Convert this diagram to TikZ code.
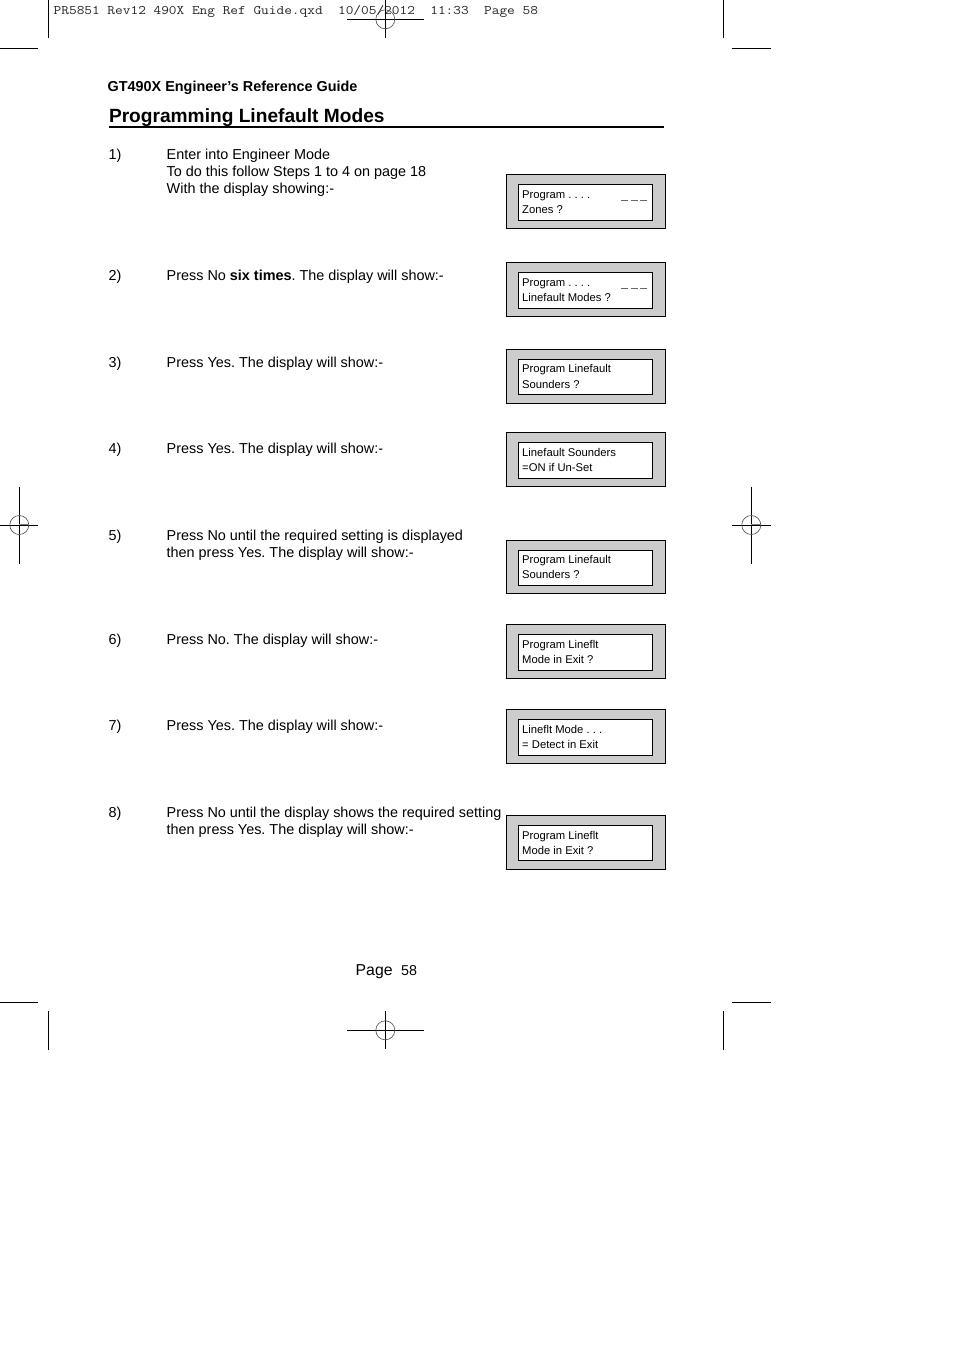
\documentclass[tikz,border=0pt]{standalone}
\usepackage{fontspec}
\setmainfont{Liberation Sans}
\newfontfamily\crit[FakeStretch=1.143]{Latin Modern Mono}
\frenchspacing
\tikzset{
  x=1pt,y=-1pt,
  body/.style={anchor=base west,inner sep=0pt,font=\fontsize{14.41}{17}\selectfont},
  lcd/.style={anchor=base west,inner sep=0pt,font=\fontsize{11.25}{13}\selectfont},
  outerbox/.style={draw=black,line width=1pt,fill=black!20},
  innerbox/.style={draw=black,line width=1pt,fill=white},
  crop/.style={draw=black,line width=0.9pt},
  reg/.style={draw=black!70,line width=0.6pt},
  lcddash/.style={draw=black!60,line width=0.7pt,dash pattern=on 7pt off 2.5pt},
}
% name, outer top, outer bottom, inner top, inner bottom, baseline 1, baseline 2, line 1, line 2
\newcommand{\disp}[9]{%
  \path[outerbox] (506,#2) rectangle (665.5,#3);
  \path[innerbox] (518.3,#4) rectangle (652.3,#5);
  \node[lcd] (#1a) at (522,#6) {#8};
  \node[lcd] (#1b) at (522,#7) {#9};
}
% x, y, horizontal half length, vertical half length
\newcommand{\regmark}[4]{%
  \draw[crop] (#1-#3,#2) -- (#1+#3,#2);
  \draw[crop] (#1,#2-#4) -- (#1,#2+#4);
  \draw[reg] (#1,#2) circle (9.5);
}
\begin{document}
\begin{tikzpicture}
\useasboundingbox[fill=white] (0,0) rectangle (954,1350);
% slug
\node[anchor=base west,inner sep=0pt,text=black!85,font=\crit\fontsize{13.06}{14}\selectfont] (slug) at (53.5,14.5) {PR5851 Rev12 490X Eng Ref Guide.qxd\ \ 10/05/2012\ \ 11:33\ \ Page 58};
% crop marks
\draw[crop] (48,0) -- (48,38);
\draw[crop] (723,0) -- (723,38);
\draw[crop] (0,48) -- (38,48);
\draw[crop] (732,48) -- (771,48);
\draw[crop] (48,1011) -- (48,1050);
\draw[crop] (723,1011) -- (723,1050);
\draw[crop] (0,1002) -- (38,1002);
\draw[crop] (732,1002) -- (771,1002);
\regmark{385.3}{19.3}{38.5}{19}
\regmark{385.3}{1030.3}{38.5}{19}
\regmark{19.3}{525}{19}{38.5}
\regmark{751.3}{525}{19.5}{38.5}
\draw[black!50,line width=0.6pt] (19.3,524) -- (29,524);
\draw[black!50,line width=0.6pt] (751.3,524) -- (761,524);
% heading
\node[anchor=base west,inner sep=0pt,font=\bfseries\fontsize{14.4}{17}\selectfont] (guide) at (107.5,91) {GT490X Engineer’s Reference Guide};
\node[anchor=base west,inner sep=0pt,font=\bfseries\fontsize{19.15}{24}\selectfont] (title) at (108.8,122) {Programming Linefault Modes};
\draw[line width=2pt] (109,126.7) -- (664,126.7);
% steps
\node[body] (n1) at (108.5,159) {1)};
\node[body] (s1a) at (166.5,159) {Enter into Engineer Mode};
\node[body] (s1b) at (166.5,176) {To do this follow Steps 1 to 4 on page 18};
\node[body] (s1c) at (166.5,193) {With the display showing:-};
\node[body] (n2) at (108.5,280) {2)};
\node[body] (s2) at (166.5,280) {Press No \textbf{six times}. The display will show:-};
\node[body] (n3) at (108.5,367) {3)};
\node[body] (s3) at (166.5,367) {Press Yes. The display will show:-};
\node[body] (n4) at (108.5,453) {4)};
\node[body] (s4) at (166.5,453) {Press Yes. The display will show:-};
\node[body] (n5) at (108.5,540) {5)};
\node[body] (s5a) at (166.5,540) {Press No until the required setting is displayed};
\node[body] (s5b) at (166.5,557) {then press Yes. The display will show:-};
\node[body] (n6) at (108.5,644) {6)};
\node[body] (s6) at (166.5,644) {Press No. The display will show:-};
\node[body] (n7) at (108.5,730) {7)};
\node[body] (s7) at (166.5,730) {Press Yes. The display will show:-};
\node[body] (n8) at (108.5,817) {8)};
\node[body] (s8a) at (166.5,817) {Press No until the display shows the required setting};
\node[body] (s8b) at (166.5,834) {then press Yes. The display will show:-};
% displays
\disp{d1}{174}{228}{184}{220.7}{198}{213.3}{Program . . . .}{Zones ?}
\disp{d2}{262.3}{316.5}{272.3}{308.3}{286}{301}{Program . . . .}{Linefault Modes ?}
\disp{d3}{349}{403.3}{359.3}{394.3}{372.3}{388.5}{Program Linefault}{Sounders ?}
\disp{d4}{432.3}{486.3}{442.3}{478.3}{456}{471}{Linefault Sounders}{=ON if Un-Set}
\disp{d5}{540.3}{593.6}{550.3}{585.3}{563}{578}{Program Linefault}{Sounders ?}
\disp{d6}{624}{678.3}{634.3}{670.3}{648.3}{663.3}{Program Lineflt}{Mode in Exit ?}
\disp{d7}{709.3}{763.3}{719.3}{755}{733.3}{748}{Lineflt Mode . . .}{= Detect in Exit}
\disp{d8}{815.3}{869.3}{825.3}{860.7}{839}{854}{Program Lineflt}{Mode in Exit ?}
\draw[lcddash] (621,200) -- (647,200);
\draw[lcddash] (621,288) -- (647,288);
% footer
\node[anchor=base west,inner sep=0pt,font=\fontsize{15.8}{17}\selectfont] (page) at (355.5,975) {Page};
\node[anchor=base west,inner sep=0pt,font=\fontsize{14.3}{17}\selectfont] (num) at (401,975) {58};
\end{tikzpicture}
\end{document}
